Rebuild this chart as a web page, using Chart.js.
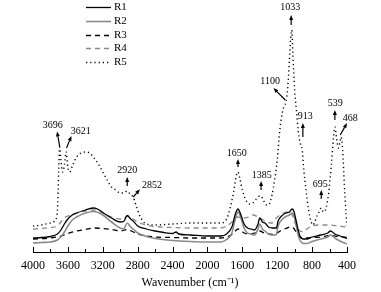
<!DOCTYPE html>
<html><head><meta charset="utf-8">
<script src="https://cdn.jsdelivr.net/npm/chart.js@4/dist/chart.umd.min.js"></script>
<style>html,body{margin:0;padding:0;background:#fff}#wrap{width:381px;height:292px}</style>
</head><body><div id="wrap"><canvas id="c" width="381" height="292"></canvas></div>
<script>
const seriesNames = ['R1','R2','R3','R4','R5'];
const xTicks = [4000,3600,3200,2800,2400,2000,1600,1200,800,400];

const wnR1 = [4000,3900,3800,3720,3680,3640,3600,3550,3500,3400,3300,3250,3200,3100,3000,2960,2920,2880,2852,2800,2700,2600,2500,2400,2360,2330,2200,2000,1850,1780,1720,1680,1650,1620,1580,1540,1500,1460,1420,1400,1370,1340,1300,1250,1210,1190,1150,1100,1060,1030,1010,985,960,940,900,860,800,700,620,590,540,480,400];
const absR1 = [14,14.5,15.5,18,22,28,33,37,39,42,44,42.5,39.5,34,30,30.5,36.5,33,31,26,23,21,19.5,18.5,20,18,17,16,16,18,25,38,43,38,28,24,23,22,28,34,30,29,25,24,24,31,36,39,40,43,41,32,22,16,13,13,15,17,19,21,18,16,13.5];

const wnR2 = [4000,3900,3800,3720,3680,3640,3600,3550,3500,3400,3300,3200,3100,3000,2960,2920,2880,2852,2800,2700,2600,2400,2200,2000,1850,1780,1720,1680,1650,1620,1580,1540,1500,1460,1420,1400,1370,1340,1300,1250,1210,1190,1150,1100,1060,1030,1010,985,960,940,900,860,800,700,620,590,540,480,400];
const absR2 = [9,9.5,10,12,15,20,26,32,35,39,40.5,37,30,24,23,29,25,23,19,15.5,13.5,11.5,10.5,10,10,12.5,19,33,40,35,24,19,18,17,23,28,23,21,18,17,17.5,26,32,35.5,37,39,37,28,17,12,8.5,8.5,10.5,13,15,17,14,11,8];

const wnR3 = [4000,3800,3700,3600,3500,3400,3300,3200,3100,3000,2920,2850,2800,2700,2600,2400,2200,2000,1850,1780,1720,1680,1650,1620,1580,1520,1460,1400,1350,1300,1250,1200,1150,1100,1050,1020,990,960,920,850,800,700,600,500,400];
const absR3 = [13,14,15.5,18.5,21,22.5,24,23.5,22.5,21,22.5,20,18,16,15,14.5,14,14,14,15,17.5,21,23,22,19,18,19,21,19,18,17.5,19,22,23.5,25,24.5,21,17,14,14,14.5,15,16.5,15.5,14.5];

const wnR4 = [4000,3900,3800,3720,3680,3640,3600,3500,3400,3300,3200,3100,3000,2960,2920,2880,2852,2800,2700,2600,2400,2200,2000,1850,1780,1720,1680,1650,1620,1580,1520,1480,1420,1380,1320,1260,1220,1150,1080,1040,1000,960,900,860,800,700,600,500,400];
const absR4 = [23,23.5,24.5,26,30,34,36,39,41,42,39,35,33,33,36,34,33,30,27,25.5,24.5,24,24,24,26,30,34,35,34,34,35,37,35,33,30,29,33,38,40,39,30,23,20,23,26,27,27,26,25];

const wnR5 = [4000,3900,3800,3750,3720,3705,3696,3680,3660,3640,3621,3600,3580,3540,3500,3450,3400,3350,3300,3250,3200,3150,3100,3050,3000,2960,2920,2880,2852,2820,2780,2740,2700,2600,2400,2200,2000,1850,1780,1740,1700,1670,1650,1630,1600,1560,1520,1480,1440,1400,1385,1360,1320,1300,1260,1230,1200,1170,1140,1120,1100,1080,1060,1045,1033,1020,1000,980,960,940,913,895,870,840,810,790,770,740,720,695,670,640,610,580,555,539,520,500,480,468,450,430,410,400];
const absR5 = [26,27,29,31,42,82,105,92,80,87,100,84,80,88,95,99,100,99,94,88,80,72,65,62,59,59,61,57,55,47,37,31,28,27,28,29,29,29,33,44,60,76,80,74,62,52,48,49,53,56,56,52,47,47,57,72,92,122,140,146,150,164,192,214,222,197,162,142,122,110,102,82,62,42,30,27,30,37,40,44,40,44,59,87,114,125,114,104,110,115,102,67,37,26];

const xs = [wnR1,wnR2,wnR3,wnR4,wnR5];
const ys = [absR1,absR2,absR3,absR4,absR5];
const colors = ['#000000','#8a8a8a','#000000','#8a8a8a','#000000'];
const widths = [1.3,1.6,1.3,1.3,1.4];
const dashes = [[],[],[5,4],[5,4],[1.2,3]];

const peakLabels = [
  {text:'3696', lx:3774, ly:127, from:[3693,105], to:[3724,120.5]},
  {text:'3621', lx:3452, ly:120.3, from:[3616,104], to:[3559,116]},
  {text:'2920', lx:2918, ly:82, from:[2920,66], to:[2920,75]},
  {text:'2852', lx:2637, ly:67, from:[2851,55], to:[2774,62.7]},
  {text:'1650', lx:1664, ly:99, from:[1650,85], to:[1650,93]},
  {text:'1385', lx:1377, ly:77, from:[1385,62], to:[1385,71]},
  {text:'1100', lx:1281, ly:170.3, from:[1108,152], to:[1243,164]},
  {text:'1033', lx:1052, ly:244.7, from:[1040,227], to:[1040,237]},
  {text:'913', lx:879, ly:135.3, from:[906,115], to:[906,129]},
  {text:'695', lx:707, ly:68, from:[695,53], to:[695,62]},
  {text:'539', lx:535, ly:148.7, from:[539,132], to:[539,142]},
  {text:'468', lx:362, ly:133.7, from:[477,117], to:[400,129]}
];

const datasets = seriesNames.map((n,i)=>({
  label:n,
  data: xs[i].map((x,j)=>({x:x,y:ys[i][j]})),
  borderColor: colors[i], borderWidth: widths[i], borderDash: dashes[i],
  pointRadius:0, fill:false, cubicInterpolationMode:'monotone', borderCapStyle:'butt'
}));

const FONT = "'Liberation Serif','Times New Roman',serif";

const extras = {
  id:'extras',
  afterDraw(chart){
    const ctx = chart.ctx, xS = chart.scales.x, yS = chart.scales.y, ca = chart.chartArea;
    ctx.save();
    ctx.strokeStyle='#000'; ctx.lineWidth=1;
    for(let v=400; v<=4000; v+=200){
      const px = Math.round(xS.getPixelForValue(v))+0.5;
      const len = (v%400===0)?5:3;
      ctx.beginPath(); ctx.moveTo(px, ca.bottom); ctx.lineTo(px, ca.bottom-len); ctx.stroke();
    }
    ctx.fillStyle='#000'; ctx.font = '10px '+FONT; ctx.textAlign='center'; ctx.textBaseline='middle';
    peakLabels.forEach(p=>{
      ctx.fillText(p.text, xS.getPixelForValue(p.lx), yS.getPixelForValue(p.ly));
      const x1=xS.getPixelForValue(p.from[0]), y1=yS.getPixelForValue(p.from[1]);
      const x2=xS.getPixelForValue(p.to[0]), y2=yS.getPixelForValue(p.to[1]);
      const ang=Math.atan2(y2-y1,x2-x1), hl=5, hw=2;
      const bx=x2-hl*Math.cos(ang), by=y2-hl*Math.sin(ang);
      ctx.lineWidth=1.2; ctx.beginPath(); ctx.moveTo(x1,y1); ctx.lineTo(bx,by); ctx.stroke();
      ctx.beginPath(); ctx.moveTo(x2,y2);
      ctx.lineTo(bx+hw*Math.sin(ang), by-hw*Math.cos(ang));
      ctx.lineTo(bx-hw*Math.sin(ang), by+hw*Math.cos(ang));
      ctx.closePath(); ctx.fill();
    });
    ctx.font='11px '+FONT; ctx.textAlign='left'; ctx.textBaseline='middle';
    const lx0=86, lx1=111, ly0=7, dy=13.8;
    chart.data.datasets.forEach((d,i)=>{
      const y=Math.round(ly0+i*dy)+0.5;
      ctx.strokeStyle=d.borderColor; ctx.lineWidth=d.borderWidth; ctx.setLineDash(d.borderDash);
      ctx.beginPath(); ctx.moveTo(lx0,y); ctx.lineTo(lx1,y); ctx.stroke();
      ctx.setLineDash([]);
      ctx.fillStyle='#000'; ctx.fillText(d.label, 114, y);
    });
    ctx.restore();
  }
};

new Chart(document.getElementById('c'),{
  type:'line',
  data:{datasets},
  options:{
    responsive:false, animation:false, devicePixelRatio:1,
    layout:{padding:{left:33,right:34,top:0,bottom:0}},
    plugins:{legend:{display:false},tooltip:{enabled:false}},
    scales:{
      x:{type:'linear', reverse:true, min:400, max:4000,
         afterBuildTicks(s){ s.ticks = xTicks.map(v=>({value:v})); },
         afterFit(s){ s.height = 40; },
         ticks:{color:'#000', font:{family:FONT,size:12}, padding:7, maxRotation:0, autoSkip:false, callback:(v)=>String(v)},
         grid:{display:false, drawTicks:false},
         border:{display:true,color:'#000',width:1},
         title:{display:true,text:'Wavenumber (cm\u207B\u00B9)',color:'#000',font:{family:FONT,size:12},padding:{top:0,bottom:2}}
      },
      y:{display:false, min:0, max:252}
    }
  },
  plugins:[extras]
});
</script></body></html>
